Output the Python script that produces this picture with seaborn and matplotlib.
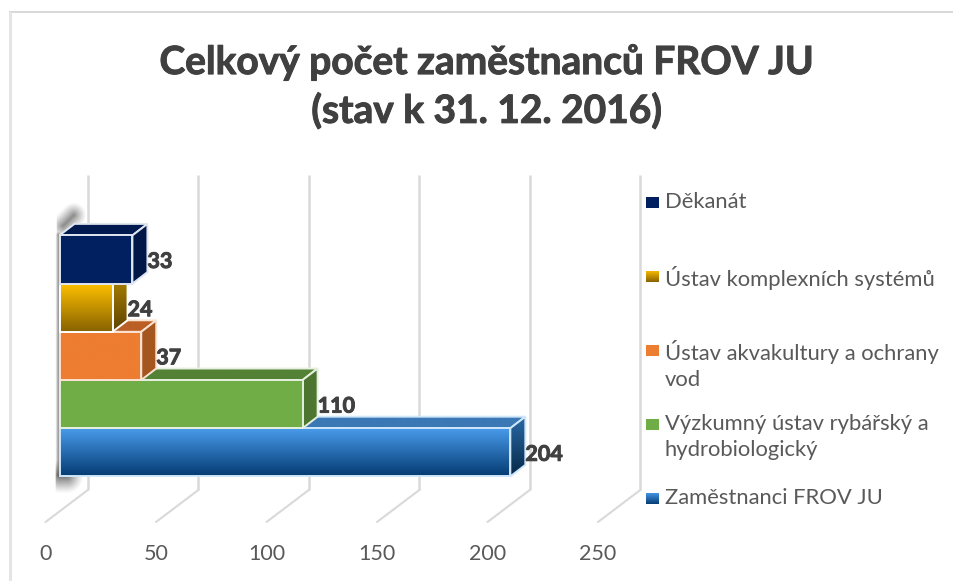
"""Horizontal stacked-look bar chart of FROV JU staff, drawn with a fake 3D depth."""
import numpy as np
import matplotlib
matplotlib.use("Agg")
import matplotlib.patheffects as pe
import matplotlib.pyplot as plt
import pandas as pd
import seaborn as sns
from matplotlib.colors import LinearSegmentedColormap
from matplotlib.patches import Polygon, Rectangle

categories = [
    "Děkanát",
    "Ústav komplexních systémů",
    "Ústav akvakultury a ochrany vod",
    "Výzkumný ústav rybářský a hydrobiologický",
    "Zaměstnanci FROV JU",
]
values = [33, 24, 37, 110, 204]
legend_labels = [
    "Děkanát",
    "Ústav komplexních systémů",
    "Ústav akvakultury a ochrany\nvod",
    "Výzkumný ústav rybářský a\nhydrobiologický",
    "Zaměstnanci FROV JU",
]
ticks = [0, 50, 100, 150, 200, 250]
title = "Celkový počet zaměstnanců FROV JU\n(stav k 31. 12. 2016)"

front_top = ["#002060", "#ffc000", "#ed7d31", "#70ad47", "#4a9ded"]
front_bottom = ["#002060", "#876200", "#ed7d31", "#70ad47", "#053c74"]
side_top = ["#001848", "#b38600", "#a5561f", "#4d7630", "#2a6aa8"]
side_bottom = ["#001848", "#5c4300", "#a5561f", "#4d7630", "#052848"]
top_face = ["#001a50", "#b38600", "#bb5f26", "#548235", "#3b78b5"]
edge_colors = ["#dfe6f0", "#ffffff", "#fbe3d2", "#e6f0de", "#cfe6fb"]

# pixel layout of the picture, used to fix the data scales
FIG_W, FIG_H = 954, 581
ZERO_PX, UNIT_PX = 59.5, 2.21
ROW0_PX, ROW_PX = 259.5, 48.2


def x_at(px):
    return (px - ZERO_PX) / UNIT_PX


def y_at(px):
    return (px - ROW0_PX) / ROW_PX


def gradient_face(ax, verts, c_top, c_bottom, z, edge=None, lw=1.4):
    """Fill a polygon given in data coordinates with a vertical colour ramp."""
    xs = [v[0] for v in verts]
    ys = [v[1] for v in verts]
    cmap = LinearSegmentedColormap.from_list("face", [c_top, c_bottom])
    im = ax.imshow(
        np.linspace(0, 1, 96)[:, None],
        cmap=cmap,
        extent=[min(xs), max(xs), max(ys), min(ys)],
        aspect="auto",
        zorder=z,
        interpolation="bilinear",
    )
    clip = Polygon(verts, closed=True, transform=ax.transData)
    im.set_clip_path(clip)
    if edge is not None:
        ax.add_patch(Polygon(verts, closed=True, fill=False, ec=edge, lw=lw, zorder=z + 0.1,
                             joinstyle="miter"))


def soft_shadow(ax, start, end, radius, strength, min_x=0):
    """Blurred grey smear around a segment, coordinates in picture pixels."""
    x0 = min(start[0], end[0]) - radius
    x1 = max(start[0], end[0]) + radius
    y0 = min(start[1], end[1]) - radius
    y1 = max(start[1], end[1]) + radius
    gx, gy = np.meshgrid(np.arange(x0, x1 + 1), np.arange(y0, y1 + 1))
    seg = np.array(end, dtype=float) - np.array(start, dtype=float)
    t = ((gx - start[0]) * seg[0] + (gy - start[1]) * seg[1]) / max((seg ** 2).sum(), 1e-6)
    t = np.clip(t, 0, 1)
    dist = np.hypot(gx - start[0] - t * seg[0], gy - start[1] - t * seg[1])
    rgba = np.zeros(gx.shape + (4,))
    rgba[..., :3] = 0.25
    rgba[..., 3] = strength * np.clip(1 - dist / radius, 0, 1) ** 1.2 * (gx >= min_x)
    ax.imshow(rgba, extent=[x_at(x0), x_at(x1), y_at(y1), y_at(y0)], aspect="auto",
              zorder=1.5, interpolation="bilinear")


sns.set_theme(style="white")
plt.rcParams["font.family"] = ["Lato", "DejaVu Sans"]

df = pd.DataFrame({"category": categories, "value": values})

fig = plt.figure(figsize=(FIG_W / 100, FIG_H / 100), dpi=100)
ax = fig.add_axes([0, 0, 1, 1])
sns.barplot(
    data=df,
    y="category",
    x="value",
    hue="category",
    order=categories,
    hue_order=categories,
    palette=front_top,
    width=1.0,
    dodge=False,
    legend=False,
    ax=ax,
)

# depth of the boxes and of the chart floor, in data units
depth_x = 15 / UNIT_PX
depth_y = 11.5 / ROW_PX
wall_x = (87.8 - ZERO_PX) / UNIT_PX
floor_x = (45.5 - ZERO_PX) / UNIT_PX

for tick in ticks:
    ax.plot([tick + wall_x] * 2, [y_at(175), y_at(490)], color="#d9d9d9", lw=1.8, zorder=1,
            solid_capstyle="butt")
    ax.plot([tick + wall_x, tick + floor_x], [y_at(490), y_at(522)], color="#d9d9d9", lw=1.5,
            zorder=1)
    ax.text(tick + floor_x, y_at(554), str(tick), ha="center", va="center", color="#595959",
            fontsize=15.5)

soft_shadow(ax, (63, 226), (74, 215), 13, 0.6, min_x=57)
soft_shadow(ax, (58, 235), (58, 476), 3.5, 0.6)
soft_shadow(ax, (60, 477), (67, 477), 17, 0.7, min_x=56)

# Lato bold is a little lighter than the original face
heavier = [pe.withStroke(linewidth=0.7, foreground="#404040")]

bars = list(ax.patches)[: len(values)]
n = len(values)
for i, (bar, value) in enumerate(zip(bars, values)):
    z = 3 + (n - i) * 2
    left, right = bar.get_x(), bar.get_x() + bar.get_width()
    up, down = min(bar.get_y(), bar.get_y() + bar.get_height()), max(bar.get_y(), bar.get_y() + bar.get_height())
    bar.set_visible(False)

    top_verts = [(left, up), (left + depth_x, up - depth_y), (right + depth_x, up - depth_y), (right, up)]
    side_verts = [(right, up), (right + depth_x, up - depth_y), (right + depth_x, down - depth_y), (right, down)]
    front_verts = [(left, up), (right, up), (right, down), (left, down)]

    gradient_face(ax, top_verts, top_face[i], top_face[i], z, edge=edge_colors[i])
    gradient_face(ax, side_verts, side_top[i], side_bottom[i], z + 0.3, edge=edge_colors[i])
    gradient_face(ax, front_verts, front_top[i], front_bottom[i], z + 0.6, edge=edge_colors[i])

    ax.text(value + depth_x, i + y_at(261.5) - y_at(259.5), str(value), ha="left", va="center",
            color="#404040", fontsize=15.5, fontweight="bold", zorder=30, path_effects=heavier)

# legend rows are evenly spaced and the first line of each sits by the swatch
legend_rows = np.arange(n)
for row, label, c_top, c_bottom in zip(legend_rows, legend_labels, front_top, front_bottom):
    cy = 202.5 + row * 74
    gradient_face(
        ax,
        [(x_at(646), y_at(cy - 6)), (x_at(659), y_at(cy - 6)), (x_at(659), y_at(cy + 6)), (x_at(646), y_at(cy + 6))],
        c_top,
        c_bottom,
        20,
    )
    ax.text(x_at(665), y_at(cy - 10.5), label, ha="left", va="top", color="#595959", fontsize=15.8,
            linespacing=1.35)

ax.set_xlim(x_at(0), x_at(FIG_W))
ax.set_ylim(y_at(FIG_H), y_at(0))
ax.axis("off")

# chart frame, only the top and left edges survive in the picture
ax.add_patch(Rectangle((x_at(9), y_at(11)), x_at(954) - x_at(9), y_at(13) - y_at(11), color="#d9d9d9", lw=0, zorder=0.5))
ax.add_patch(Rectangle((x_at(9), y_at(12)), x_at(12) - x_at(9), y_at(581) - y_at(12), color="#e4e4e4", lw=0, zorder=0.5))

ax.text((x_at(163) + x_at(810)) / 2, y_at(86.5), title, ha="center", va="center", color="#404040",
        fontsize=28, fontweight="bold", linespacing=1.42, zorder=30, path_effects=heavier)

fig.savefig("out.png", dpi=100)
